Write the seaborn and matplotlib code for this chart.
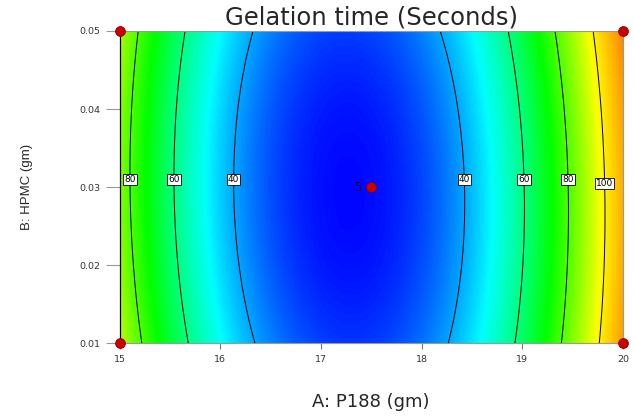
import numpy as np
import matplotlib
matplotlib.use("Agg")
import matplotlib.pyplot as plt
import seaborn as sns
import pandas as pd
from matplotlib.colors import LinearSegmentedColormap

# ---------------------------------------------
# DATA
# ---------------------------------------------
# factor ranges
a_range = [15, 20]          # A: P188 (gm)
b_range = [0.01, 0.05]      # B: HPMC (gm)

# fitted quadratic model in coded units (-1..+1):
# Y = b0 + bA*A + bB*B + bAB*A*B + bAA*A^2 + bBB*B^2
coef_names = ["b0", "bA", "bB", "bAB", "bAA", "bBB"]
coef_values = [25.2, 12.85, 0.45, 1.45, 73.1, 4.95]

contour_levels = [40, 60, 80, 100]

# design points
design_a = [15, 15, 20, 20, 17.5]
design_b = [0.01, 0.05, 0.01, 0.05, 0.03]
center_reps = "5"

x_ticks = [15, 16, 17, 18, 19, 20]
y_ticks = [0.01, 0.02, 0.03, 0.04, 0.05]

# colour ramp (value -> colour), Design-Expert style
ramp_values = [24, 48, 72, 98, 140]
ramp_colors = ["#0000ff", "#00ffff", "#00ff00", "#ffff00", "#ff0000"]

# ---------------------------------------------
# SETTINGS
# ---------------------------------------------
sns.set_style("white")
plt.rcParams['font.family'] = ['DejaVu Sans']

coef = dict(zip(coef_names, coef_values))

A = np.linspace(a_range[0], a_range[1], 400)
B = np.linspace(b_range[0], b_range[1], 300)
AA, BB = np.meshgrid(A, B)
xa = (AA - np.mean(a_range)) / (np.diff(a_range)[0] / 2)
xb = (BB - np.mean(b_range)) / (np.diff(b_range)[0] / 2)
Z = (coef["b0"] + coef["bA"] * xa + coef["bB"] * xb + coef["bAB"] * xa * xb
     + coef["bAA"] * xa ** 2 + coef["bBB"] * xb ** 2)

lo, hi = ramp_values[0], ramp_values[-1]
cmap = LinearSegmentedColormap.from_list(
    "de", [((v - lo) / (hi - lo), c) for v, c in zip(ramp_values, ramp_colors)])

fig = plt.figure(figsize=(6.34, 4.16), dpi=100)
ax = fig.add_axes([0.1885, 0.1743, 0.9826 - 0.1885, 0.9255 - 0.1743])

ax.pcolormesh(AA, BB, Z, cmap=cmap, vmin=lo, vmax=hi, shading='gouraud',
              rasterized=True)
cs = ax.contour(AA, BB, Z, levels=contour_levels, colors='black', linewidths=0.7)

label_pos = [(15.10, 0.031), (15.53, 0.031), (16.13, 0.031), (18.43, 0.031),
             (19.02, 0.031), (19.46, 0.031), (19.82, 0.0305)]
labels = ax.clabel(cs, fmt='%d', fontsize=6.5, inline=False, manual=label_pos)
for t in labels:
    t.set_rotation(0)
    t.set_bbox(dict(boxstyle='square,pad=0.12', fc='white', ec='black', lw=0.6))

pts = pd.DataFrame({"A": design_a, "B": design_b})
sns.scatterplot(data=pts, x="A", y="B", ax=ax, color="#cc0000", s=50,
                marker='o', edgecolor='#880000', linewidth=0.6, zorder=5,
                clip_on=False)
ax.text(design_a[-1] - 0.1, design_b[-1], center_reps, ha='right', va='center',
        fontsize=8.5, color='#000030', zorder=6)

ax.set_xlim(a_range)
ax.set_ylim(b_range)
ax.set_xticks(x_ticks)
ax.set_yticks(y_ticks)
ax.set_xticklabels([str(v) for v in x_ticks])
ax.set_yticklabels([f"{v:.2f}" for v in y_ticks])
ax.tick_params(axis='x', length=4.5, width=0.8, color='#777777',
               labelsize=6.8, labelcolor='#333333', pad=4, direction='out', bottom=True)
ax.tick_params(axis='y', length=10, width=0.8, color='#999999',
               labelsize=6.8, labelcolor='#333333', pad=4, direction='out', left=True)

for side in ['top', 'bottom', 'right']:
    ax.spines[side].set_color('#999999')
    ax.spines[side].set_linewidth(0.8)
ax.spines['left'].set_color('black')
ax.spines['left'].set_linewidth(0.9)

ax.set_title('Gelation time (Seconds)', fontsize=17.5, pad=5)
ax.set_xlabel('A: P188 (gm)', fontsize=13, labelpad=21)
ax.set_ylabel('B: HPMC (gm)', fontsize=9.5, labelpad=33,
              family=['Liberation Sans', 'DejaVu Sans'])

plt.savefig('out.png', dpi=100)
